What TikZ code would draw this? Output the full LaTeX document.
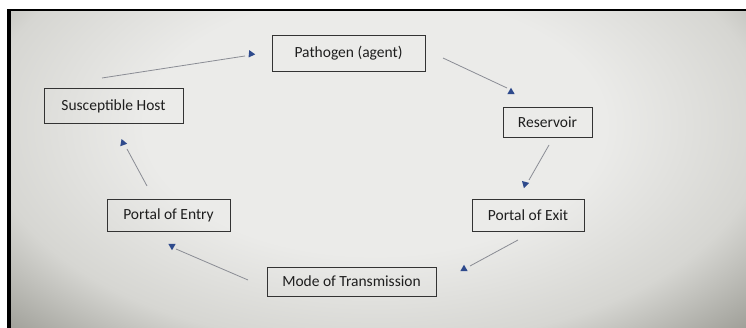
\documentclass[tikz,border=0pt]{standalone}
\usepackage{fontspec}
\setmainfont{Carlito}
\usetikzlibrary{shapes.geometric}
\definecolor{boxline}{HTML}{333333}
\definecolor{txt}{HTML}{1E1E1E}
\definecolor{conn}{HTML}{8A8C94}
\definecolor{tipblue}{HTML}{2E4A8C}
\definecolor{bginner}{HTML}{EBEBE9}
\definecolor{bgmid}{HTML}{D6D6D2}
\definecolor{bgouter}{HTML}{86867E}
\pgfdeclareradialshading{screenglow}{\pgfpoint{0bp}{0bp}}{color(0bp)=(bginner); color(10bp)=(bginner); color(17bp)=(bgmid); color(25bp)=(bgouter); color(50bp)=(bgouter)}
\tikzset{
  stage/.style={draw=boxline, line width=0.9pt, text=txt, font=\fontsize{15.5}{18}\selectfont, inner sep=0pt, rectangle},
  link/.style={draw=conn, line width=0.8pt},
  tiphead/.style={regular polygon, regular polygon sides=3, fill=tipblue, inner sep=0pt, minimum size=8.5pt}
}
\begin{document}
\begin{tikzpicture}[x=1pt,y=-1pt]
\useasboundingbox (0,0) rectangle (746,328);
\fill[white] (0,0) rectangle (746,328);
\fill[black] (7,9) rectangle (746,328);
\begin{scope}
  \clip (11,12) rectangle (746,328);
  \shade[shading=screenglow] (-200,-200) rectangle (950,450);
\end{scope}

% boxes
\node[stage, minimum width=153pt, minimum height=36pt] (pa) at (348.5,53) {Pathogen (agent)};
\node[stage, minimum width=89pt, minimum height=30pt] (re) at (547.5,122) {Reservoir};
\node[stage, minimum width=112pt, minimum height=32pt] (pe) at (528,215) {Portal of Exit};
\node[stage, minimum width=169pt, minimum height=29pt] (mo) at (351.5,281.5) {Mode of Transmission};
\node[stage, minimum width=123pt, minimum height=32pt] (en) at (168.5,215) {Portal of Entry};
\node[stage, minimum width=139pt, minimum height=35pt] (sh) at (113.5,106) {Susceptible Host};

% connector end points
\coordinate (a1s) at (102,78);  \coordinate (a1e) at (245,56);  \coordinate (t1) at (251,54);
\coordinate (a2s) at (443,58);  \coordinate (a2e) at (507,88);  \coordinate (t2) at (511,92);
\coordinate (a3s) at (549,145); \coordinate (a3e) at (529,180); \coordinate (t3) at (525,184);
\coordinate (a4s) at (518,240); \coordinate (a4e) at (470,266); \coordinate (t4) at (464,269);
\coordinate (a5s) at (248,280); \coordinate (a5e) at (176,249); \coordinate (t5) at (172,246);
\coordinate (a6s) at (147,186); \coordinate (a6e) at (127,149); \coordinate (t6) at (123,143);

\draw[link] (a1s) -- (a1e);
\draw[link] (a2s) -- (a2e);
\draw[link] (a3s) -- (a3e);
\draw[link] (a4s) -- (a4e);
\draw[link] (a5s) -- (a5e);
\draw[link] (a6s) -- (a6e);

\node[tiphead, shape border rotate=-95] (h1) at (t1) {};
\node[tiphead, shape border rotate=0] (h2) at (t2) {};
\node[tiphead, shape border rotate=-75] (h3) at (t3) {};
\node[tiphead, shape border rotate=0] (h4) at (t4) {};
\node[tiphead, shape border rotate=180] (h5) at (t5) {};
\node[tiphead, shape border rotate=-100] (h6) at (t6) {};
\end{tikzpicture}
\end{document}
